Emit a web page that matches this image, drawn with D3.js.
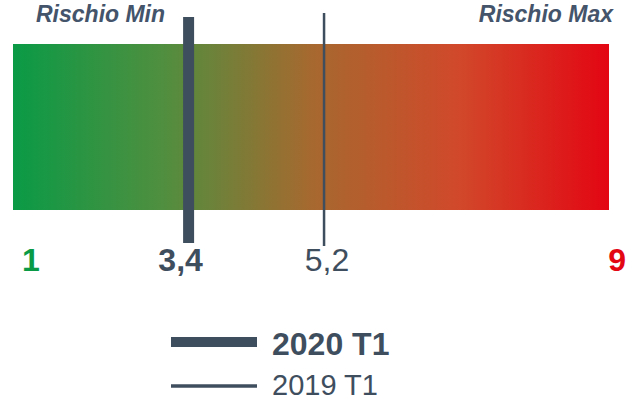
<!DOCTYPE html>
<html>
<head>
<meta charset="utf-8">
<script src="https://cdn.jsdelivr.net/npm/d3@7"></script>
<style>
  body { margin: 0; background: #fff; }
  svg { display: block; font-family: "Liberation Sans", Arial, sans-serif; }
</style>
</head>
<body>
<svg id="vis" width="633" height="402"></svg>
<script>
// Dati del grafico
const ESTREMI = [1, 9];
const TITOLI_ESTREMI = ["Rischio Min", "Rischio Max"];
const SERIE = ["2020 T1", "2019 T1"];
const VALORI = [3.4, 5.2];
const STOP_COLORI = ["#0a9a46", "#4f8f3f", "#a6692f", "#d1482a", "#e30613"];

const SVG = d3.select("#vis");
const GRIGIO = "#3f4e5e";

// formato italiano: virgola decimale
const it = d3.formatLocale({ decimal: ",", thousands: ".", grouping: [3], currency: ["€", ""] });
const fmt = it.format("~g");

// Scala orizzontale
const x = d3.scaleLinear().domain(ESTREMI).range([8, 610]);

// Gradiente della barra
const grad = SVG.append("defs").append("linearGradient")
  .attr("id", "rischio")
  .attr("x1", "0%").attr("x2", "100%");
grad.selectAll("stop")
  .data(STOP_COLORI)
  .join("stop")
  .attr("offset", (d, i) => i / (STOP_COLORI.length - 1))
  .attr("stop-color", d => d);

// Barra
SVG.append("rect")
  .attr("x", x(ESTREMI[0]) + 5)
  .attr("y", 44)
  .attr("width", x(ESTREMI[1]) - x(ESTREMI[0]) - 6)
  .attr("height", 166)
  .attr("fill", "url(#rischio)");

// Titoli sopra gli estremi
SVG.selectAll(".titolo")
  .data(TITOLI_ESTREMI)
  .join("text")
  .attr("class", "titolo")
  .attr("x", (d, i) => i === 0 ? 36 : 613)
  .attr("y", 22)
  .attr("text-anchor", (d, i) => i === 0 ? "start" : "end")
  .attr("font-size", 23)
  .attr("font-weight", "bold")
  .attr("font-style", "italic")
  .attr("fill", "#44546a")
  .text(d => d);

// Etichette degli estremi
SVG.selectAll(".estremo")
  .data(ESTREMI)
  .join("text")
  .attr("class", "estremo")
  .attr("x", (d, i) => i === 0 ? 22 : 626)
  .attr("y", 271)
  .attr("text-anchor", (d, i) => i === 0 ? "start" : "end")
  .attr("font-size", 32)
  .attr("font-weight", "bold")
  .attr("fill", (d, i) => i === 0 ? STOP_COLORI[0] : STOP_COLORI[STOP_COLORI.length - 1])
  .text(d => fmt(d));

// Linee dei valori (2020 spessa, 2019 sottile)
const spessori = [11, 2.5];
const cima = [17, 13];
const fondo = [243, 246];
const scarto = [-8, 3];

SVG.selectAll(".marca")
  .data(VALORI)
  .join("line")
  .attr("class", "marca")
  .attr("x1", d => x(d))
  .attr("x2", d => x(d))
  .attr("y1", (d, i) => cima[i])
  .attr("y2", (d, i) => fondo[i])
  .attr("stroke", GRIGIO)
  .attr("stroke-width", (d, i) => spessori[i]);

SVG.selectAll(".valore")
  .data(VALORI)
  .join("text")
  .attr("class", "valore")
  .attr("x", (d, i) => x(d) + scarto[i])
  .attr("y", 271)
  .attr("text-anchor", "middle")
  .attr("font-size", 32)
  .attr("font-weight", (d, i) => i === 0 ? "bold" : "normal")
  .attr("fill", GRIGIO)
  .text(d => fmt(d));

// Legenda
const leg = SVG.selectAll(".leg")
  .data(SERIE)
  .join("g")
  .attr("class", "leg")
  .attr("transform", (d, i) => `translate(171, ${i === 0 ? 342 : 386})`);

leg.append("line")
  .attr("x1", 0).attr("x2", 86)
  .attr("stroke", GRIGIO)
  .attr("stroke-width", (d, i) => i === 0 ? 10 : 3.5);

leg.append("text")
  .attr("x", 101)
  .attr("y", (d, i) => i === 0 ? 13 : 9)
  .attr("font-size", (d, i) => i === 0 ? 32 : 29)
  .attr("font-weight", (d, i) => i === 0 ? "bold" : "normal")
  .attr("fill", GRIGIO)
  .text(d => d);
</script>
</body>
</html>
